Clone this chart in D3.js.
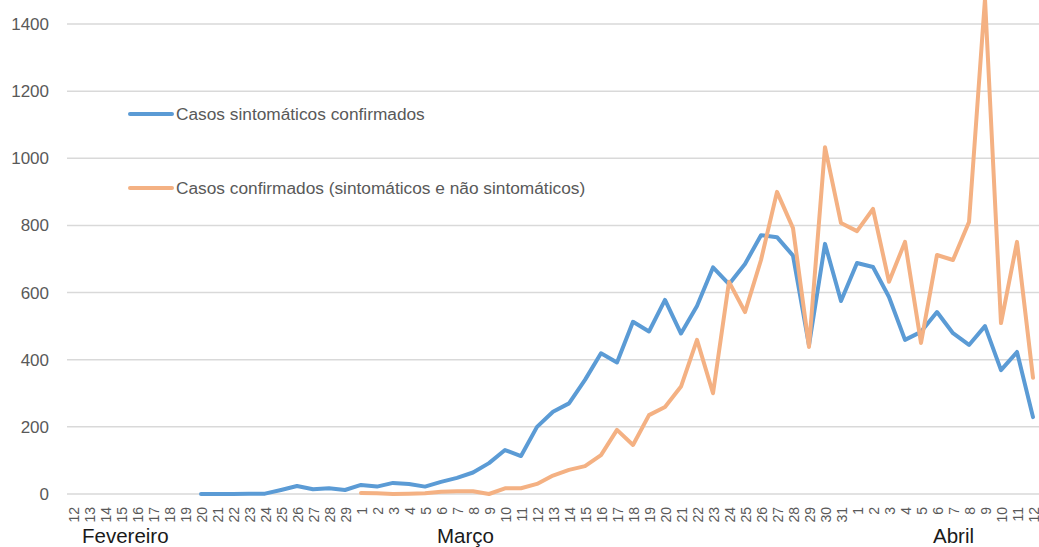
<!DOCTYPE html>
<html><head><meta charset="utf-8">
<script src="https://cdn.jsdelivr.net/npm/d3@7"></script>
<style>body{margin:0;background:#fff}svg{display:block}</style>
</head><body>
<script>
const febDays = ["12","13","14","15","16","17","18","19","20","21","22","23","24","25","26","27","28","29"];
const marDays = ["1","2","3","4","5","6","7","8","9","10","11","12","13","14","15","16","17","18","19","20","21","22","23","24","25","26","27","28","29","30","31"];
const aprDays = ["1","2","3","4","5","6","7","8","9","10","11","12"];
const categories = [...febDays.map(d=>"F"+d), ...marDays.map(d=>"M"+d), ...aprDays.map(d=>"A"+d)];
const tickLabels = [...febDays, ...marDays, ...aprDays];
const months = [{name:"Fevereiro", at:"F12"},{name:"Março", at:"M6"},{name:"Abril", at:"A6"}];
const yTicks = [0,200,400,600,800,1000,1200,1400];

// null = no data
const sintomaticos = [null,null,null,null,null,null,null,null,0,0,0,1,1,12,24,14,17,12,
  27,22,33,30,22,36,48,64,92,131,113,200,245,270,340,419,392,513,484,578,478,560,675,625,685,771,765,710,443,745,575,
  688,676,587,459,483,542,479,444,500,369,423,229];
const confirmados = [null,null,null,null,null,null,null,null,null,null,null,null,null,null,null,null,null,null,
  3,2,0,1,2,7,8,8,0,17,17,30,55,72,83,116,191,146,235,259,320,459,300,632,542,697,900,792,438,1033,807,
  783,849,632,751,450,712,697,810,1475,509,751,346];
const series = [
  {name:"Casos sintomáticos confirmados", values:sintomaticos, color:"#5B9BD5"},
  {name:"Casos confirmados (sintomáticos e não sintomáticos)", values:confirmados, color:"#F4B183"}
];

const W=1039,H=547;
const svg=d3.select("body").append("svg").attr("width",W).attr("height",H);
const x=d3.scalePoint().domain(categories).range([65,1041]).padding(0.5);
const y=d3.scaleLinear().domain([0,1400]).range([494,24]);
const font="'Liberation Sans', Arial, sans-serif";

// gridlines
svg.append("g").selectAll("line").data(yTicks).join("line")
  .attr("x1",67).attr("x2",W).attr("y1",d=>y(d)).attr("y2",d=>y(d))
  .attr("stroke","#d9d9d9").attr("stroke-width",1.5);

// y axis labels
const yAxis=svg.append("g").attr("transform","translate(49,0)")
  .call(d3.axisLeft(y).tickValues(yTicks).tickSize(0).tickPadding(0).tickFormat(d3.format("d")));
yAxis.select(".domain").remove();
yAxis.selectAll("text").attr("font-family",font).attr("font-size",17).attr("fill","#595959");

// x axis labels
const xAxis=svg.append("g").attr("transform","translate(0,494)")
  .call(d3.axisBottom(x).tickSize(0).tickFormat((d,i)=>tickLabels[i]));
xAxis.select(".domain").remove();
xAxis.selectAll("text").attr("font-family",font).attr("font-size",14).attr("fill","#595959")
  .attr("text-anchor","end").attr("dy",null).attr("y",0)
  .attr("transform","translate(5,13) rotate(-90)");

// months
svg.append("g").selectAll("text").data(months).join("text")
  .attr("x",d=>x(d.at)+ (d.name==="Fevereiro"?9:-4)).attr("y",543)
  .attr("font-family",font).attr("font-size",20.5).attr("fill","#1a1a1a").text(d=>d.name);

// lines
const line=d3.line().defined(d=>d!==null).x((d,i)=>x(categories[i])).y(d=>y(d));
svg.append("g").selectAll("path").data(series).join("path")
  .attr("d",d=>line(d.values)).attr("fill","none").attr("stroke",d=>d.color)
  .attr("stroke-width",4).attr("stroke-linejoin","round").attr("stroke-linecap","round");

// legend
const leg=svg.append("g").selectAll("g").data(series).join("g")
  .attr("transform",(d,i)=>`translate(0,${114+i*74})`);
leg.append("line").attr("x1",130).attr("x2",172).attr("stroke",d=>d.color).attr("stroke-width",4).attr("stroke-linecap","round");
leg.append("text").attr("x",176).attr("y",6).attr("font-family",font).attr("font-size",17.3)
  .attr("fill","#595959").text(d=>d.name);
</script>
</body></html>
